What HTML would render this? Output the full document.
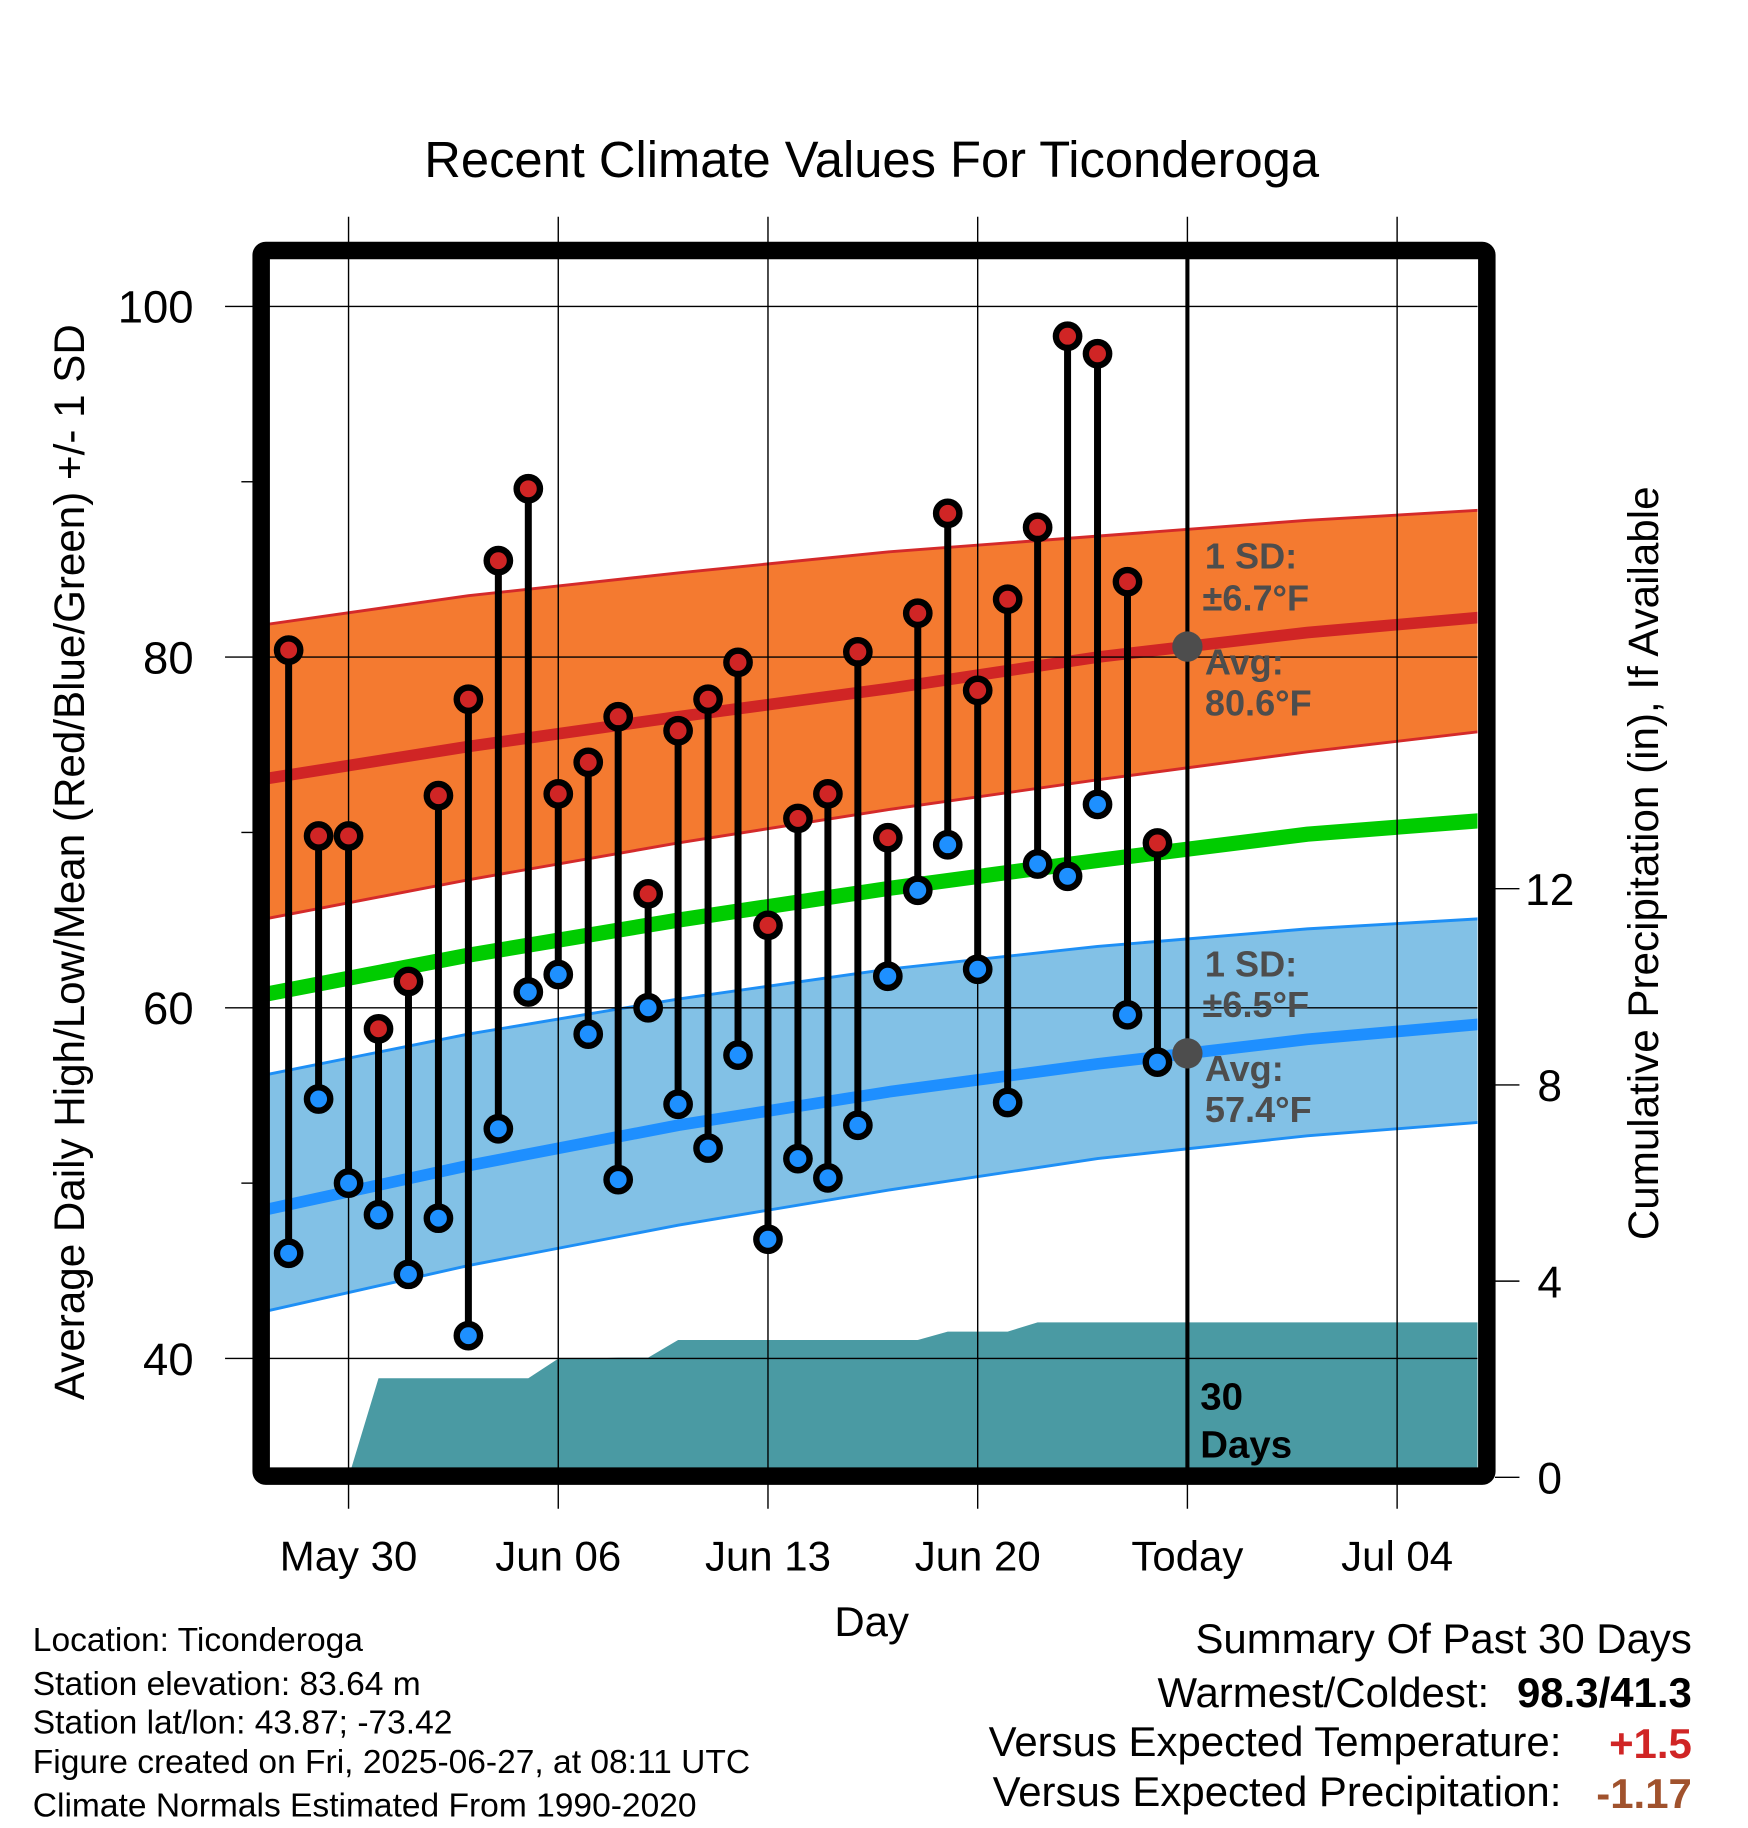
<!DOCTYPE html>
<html><head><meta charset="utf-8">
<style>
html,body{margin:0;padding:0;background:#fff;}
svg{display:block;font-family:"Liberation Sans",Arial,sans-serif;}
</style></head>
<body>
<svg id="chart" width="1748" height="1828" viewBox="0 0 1500 1569" xmlns="http://www.w3.org/2000/svg">
<defs><clipPath id="plotclip"><rect x="231" y="222" width="1037" height="1038"/></clipPath></defs>
<rect x="0" y="0" width="1500" height="1569" fill="#fff"/>
<text x="748" y="152" font-size="43.5" text-anchor="middle">Recent Climate Values For Ticonderoga</text>
<g id="plot" clip-path="url(#plotclip)"></g>
<g id="axes"></g>
</svg>
<script>
// ---- data ----
const dayLabels = ["May 30","Jun 06","Jun 13","Jun 20","Today","Jul 04"];
const dayLabelOffsets = [0,7,14,21,28,35];
const tempTicks = [40,60,80,100];
const tempMinorTicks = [50,70,90];
const precipTicks = [0,4,8,12];
const obsDays = [-2,-1,0,1,2,3,4,5,6,7,8,9,10,11,12,13,14,15,16,17,18,19,20,21,22,23,24,25,26,27];
const highs = [80.4,69.8,69.8,58.8,61.5,72.1,77.6,85.5,89.6,72.2,74.0,76.6,66.5,75.8,77.6,79.7,64.7,70.8,72.2,80.3,69.7,82.5,88.2,78.1,83.3,87.4,98.3,97.3,84.3,69.4];
const lows = [46.0,54.8,50.0,48.2,44.8,48.0,41.3,53.1,60.9,61.9,58.5,50.2,60.0,54.5,52.0,57.3,46.8,51.4,50.3,53.3,61.8,66.7,69.3,62.2,54.6,68.2,67.5,71.6,59.6,56.9];
const precipCum = [0,0,0,2.02,2.02,2.02,2.02,2.02,2.02,2.42,2.42,2.44,2.44,2.80,2.80,2.80,2.80,2.80,2.80,2.80,2.80,2.80,2.97,2.97,2.97,3.16,3.16,3.16,3.16,3.16];
const normDays = [-3,4,11,18,25,32,38];
const avgHigh = [73.0,74.9,76.6,78.2,80.0,81.4,82.3];
const highUpper = [81.8,83.5,84.8,86.0,86.9,87.8,88.4];
const highLower = [65.0,67.3,69.4,71.3,73.0,74.6,75.8];
const avgMean = [60.7,63.0,65.0,66.8,68.4,69.9,70.7];
const avgLow = [48.4,51.0,53.3,55.2,56.8,58.2,59.1];
const lowUpper = [56.1,58.5,60.5,62.2,63.5,64.5,65.1];
const lowLower = [42.6,45.3,47.6,49.6,51.4,52.7,53.5];
const todayDay = 28;
const todayAvgHigh = 80.6;
const todayAvgLow = 57.4;

// ---- scales ----
const xs = d => 299 + d*180/7;
const yt = t => 263 + (100 - t)*15.05;
const yp = p => 1268 - p*42.1;
const NS = "http://www.w3.org/2000/svg";
function mk(tag, attrs, parent){const e=document.createElementNS(NS,tag);for(const k in attrs)e.setAttribute(k,attrs[k]);parent.appendChild(e);return e;}
const plot = document.getElementById('plot');
const axes = document.getElementById('axes');
const svg = document.getElementById('chart');

function band(up, lo, fill, name){
  let pts = normDays.map((d,i)=>xs(d)+','+yt(up[i]));
  pts = pts.concat(normDays.slice().reverse().map((d,j)=>{const i=normDays.length-1-j;return xs(d)+','+yt(lo[i]);}));
  const p = mk('polygon',{points:pts.join(' '),fill:fill},plot);
  
  
}
function line(vals, color, w, name){
  const p = mk('polyline',{points:normDays.map((d,i)=>xs(d)+','+yt(vals[i])).join(' '),fill:'none',stroke:color,'stroke-width':w},plot);
  
  
}
band(highUpper, highLower, '#f47a30', 'high-sd-band');
line(highUpper, '#d42a2a', 2.5, 'high-upper-sd-line');
line(highLower, '#d42a2a', 2.5, 'high-lower-sd-line');
line(avgHigh, '#d02525', 10, 'avg-high-line');
band(lowUpper, lowLower, '#82c1e6', 'low-sd-band');
line(lowUpper, '#1e8ff5', 2.5, 'low-upper-sd-line');
line(lowLower, '#1e8ff5', 2.5, 'low-lower-sd-line');
line(avgLow, '#1e8fff', 10, 'avg-low-line');
line(avgMean, '#00cc00', 13, 'avg-mean-line');

// precip area
{
  let pts = [xs(obsDays[0])+','+1300];
  obsDays.forEach((d,i)=>pts.push(xs(d)+','+yp(precipCum[i])));
  pts.push('1280,'+yp(precipCum[precipCum.length-1]));
  pts.push('1280,1300');
  const p = mk('polygon',{points:pts.join(' '),fill:'#4a9aa3'},plot);
  
  
}

// grid
tempTicks.forEach(t=>{
  const g = mk('line',{x1:193,x2:1268,y1:yt(t),y2:yt(t),stroke:'#000','stroke-width':1.2},axes);
  
  
  const tx = mk('text',{x:166,y:yt(t)+14,'font-size':39,'text-anchor':'end'},axes);
  tx.textContent = t;
  
  
});
tempMinorTicks.forEach(t=>{
  const g = mk('line',{x1:207,x2:220,y1:yt(t),y2:yt(t),stroke:'#000','stroke-width':1.2},axes);
  
  
});
dayLabelOffsets.forEach((d,i)=>{
  const g = mk('line',{x1:xs(d),x2:xs(d),y1:186,y2:1295,stroke:'#000','stroke-width':1.2},axes);
  
  
  const tx = mk('text',{x:xs(d),y:1348,'font-size':36,'text-anchor':'middle'},axes);
  tx.textContent = dayLabels[i];
  
  
});
precipTicks.forEach(p=>{
  const g = mk('line',{x1:1283,x2:1304,y1:yp(p),y2:yp(p),stroke:'#000','stroke-width':1.2},axes);
  
  
  const tx = mk('text',{x:1330,y:yp(p)+14,'font-size':38,'text-anchor':'middle'},axes);
  tx.textContent = p;
  
  
});

// today line
{
  const g = mk('line',{x1:xs(todayDay),x2:xs(todayDay),y1:222,y2:1260,stroke:'#000','stroke-width':3.5},axes);
  
  
}

// observations
obsDays.forEach((d,i)=>{
  const x = xs(d);
  const s = mk('line',{x1:x,x2:x,y1:yt(highs[i]),y2:yt(lows[i]),stroke:'#000','stroke-width':6},axes);
  
  
  const c1 = mk('circle',{cx:x,cy:yt(highs[i]),r:10,fill:'#d02525',stroke:'#000','stroke-width':5.5},axes);
  
  
  const c2 = mk('circle',{cx:x,cy:yt(lows[i]),r:10,fill:'#1e90ff',stroke:'#000','stroke-width':5.5},axes);
  
  
});

// annotations
function txt(x,y,s,attrs,name){const t=mk('text',Object.assign({x:x,y:y},attrs),svg);t.textContent=s;return t;}
const ann = {'font-size':31,'font-weight':'bold',fill:'#4d4d4d'};
{
  const d1 = mk('circle',{cx:xs(todayDay),cy:yt(todayAvgHigh),r:13,fill:'#4d4d4d'},svg);
  
  
  const d2 = mk('circle',{cx:xs(todayDay),cy:yt(todayAvgLow),r:13,fill:'#4d4d4d'},svg);
  
  
}
txt(1034,488,'1 SD:',ann,'high-sd-label');
txt(1032,524,'±6.7°F',ann,'high-sd-value');
txt(1034,579,'Avg:',ann,'high-avg-label');
txt(1034,614,'80.6°F',ann,'high-avg-value');
txt(1034,838,'1 SD:',ann,'low-sd-label');
txt(1032,873,'±6.5°F',ann,'low-sd-value');
txt(1034,928,'Avg:',ann,'low-avg-label');
txt(1034,963,'57.4°F',ann,'low-avg-value');
txt(1030,1210,'30',{'font-size':33,'font-weight':'bold'},'precip-days-label');
txt(1030,1251,'Days',{'font-size':33,'font-weight':'bold'},'precip-days-label-2');

// frame
{
  const f = mk('rect',{x:224,y:215,width:1052,height:1052,fill:'none',stroke:'#000','stroke-width':15,rx:4},svg);
  
  
}

// axis titles
txt(0,0,'Average Daily High/Low/Mean (Red/Blue/Green) +/- 1 SD',{'font-size':36.2,'text-anchor':'middle',transform:'translate(72,740) rotate(-90)'},'y-axis-title');
txt(0,0,'Cumulative Precipitation (in), If Available',{'font-size':36.2,'text-anchor':'middle',transform:'translate(1423,741) rotate(-90)'},'y2-axis-title');
txt(748,1404,'Day',{'font-size':36,'text-anchor':'middle'},'x-axis-title');

// footer
const ft = {'font-size':28.8};
txt(28,1417,'Location: Ticonderoga',ft,'location-text');
txt(28,1455,'Station elevation: 83.64 m',ft,'elevation-text');
txt(28,1488,'Station lat/lon: 43.87; -73.42',ft,'latlon-text');
txt(28,1522,'Figure created on Fri, 2025-06-27, at 08:11 UTC',ft,'created-text');
txt(28,1559,'Climate Normals Estimated From 1990-2020',ft,'normals-text');
const st = {'font-size':36,'text-anchor':'end'};
txt(1452,1419,'Summary Of Past 30 Days',st,'summary-title');
txt(1278,1465,'Warmest/Coldest:',st,'warmest-label');
txt(1452,1465,'98.3/41.3',{'font-size':36,'text-anchor':'end','font-weight':'bold'},'warmest-value');
txt(1340,1507,'Versus Expected Temperature:',st,'temp-anomaly-label');
txt(1452,1509,'+1.5',{'font-size':36,'text-anchor':'end','font-weight':'bold',fill:'#d02525'},'temp-anomaly-value');
txt(1340,1550,'Versus Expected Precipitation:',st,'precip-anomaly-label');
txt(1452,1552,'-1.17',{'font-size':36,'text-anchor':'end','font-weight':'bold',fill:'#a0522d'},'precip-anomaly-value');
</script>
</body></html>
